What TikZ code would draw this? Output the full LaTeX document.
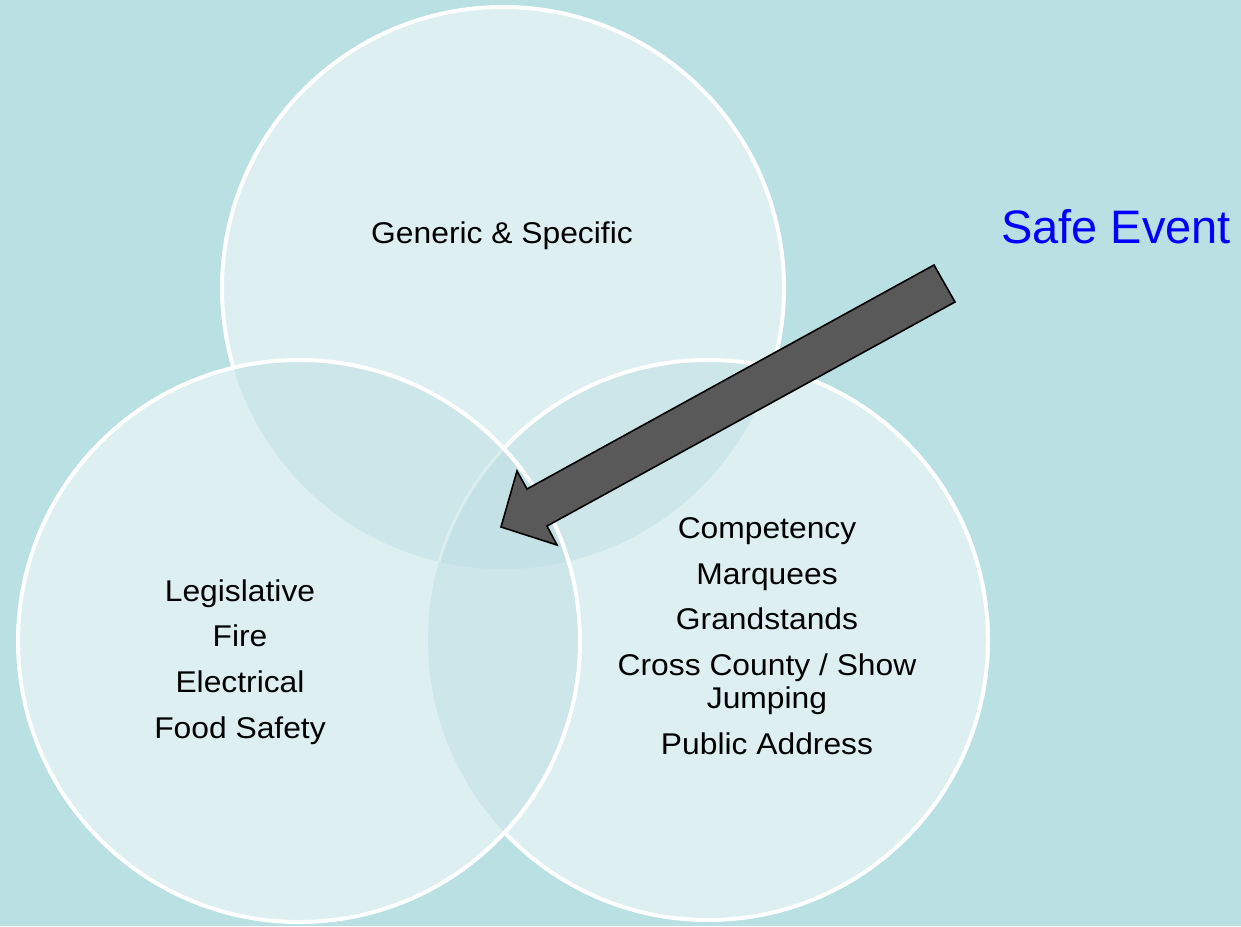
\documentclass[tikz,border=0pt]{standalone}
\usepackage{fontspec}
\setmainfont{Liberation Sans}
\newfontfamily\lblfont[FakeStretch=1.06]{Liberation Sans}
\definecolor{bgc}{HTML}{B9E0E3}
\definecolor{oneC}{HTML}{DDEFF1}
\definecolor{twoC}{HTML}{CCE6E9}
\definecolor{threeC}{HTML}{C4E2E5}
\definecolor{arrowc}{HTML}{595959}
\definecolor{safeblue}{HTML}{0000FF}
\tikzset{
  ring/.style={draw=white, line width=2pt},
  lbl/.style={align=center, font=\lblfont\fontsize{15}{16.5}\selectfont, text=black, inner sep=0pt},
  blockarrow/.style={fill=arrowc, draw=black, line width=0.8pt, line join=miter},
}
\begin{document}
\begin{tikzpicture}[x=0.5pt, y=-0.5pt]
\useasboundingbox (0,0) rectangle (1241,926);
\fill[bgc] (0,0) rectangle (1241,926);
\def\rT{(503,288) circle[radius=281]}
\def\rL{(299,641) circle[radius=281]}
\def\rR{(708,640) circle[radius=280]}
% top circle
\fill[oneC] \rT;
\draw[ring] \rT;
% right circle
\fill[oneC] \rR;
\begin{scope}
  \clip \rR;
  \fill[twoC] \rT;
\end{scope}
\draw[ring] \rR;
% left circle
\fill[oneC] \rL;
\begin{scope}
  \clip \rL;
  \fill[twoC] \rT;
  \fill[twoC] \rR;
  \begin{scope}
    \clip \rT;
    \fill[threeC] \rR;
    \draw[white, line width=1.5pt, opacity=0.35] \rR;
  \end{scope}
\end{scope}
\draw[ring] \rL;
% labels
\node[lbl] (top) at (502,236) {Generic \& Specific};
\node[lbl] (left) at (240,662) {Legislative\\[6.3pt]Fire\\[6.3pt]Electrical\\[6.3pt]Food Safety};
\node[lbl] (right) at (767,636) {Competency\\[6.3pt]Marquees\\[6.3pt]Grandstands\\[6.3pt]Cross County / Show\\Jumping\\[6.3pt]Public Address};
\node[font=\fontsize{23.5}{26}\selectfont, text=safeblue, inner sep=0pt] (safe) at (1116,227) {Safe Event};
% block arrow
\coordinate (a1) at (934,265);
\coordinate (a2) at (955,302);
\coordinate (a3) at (547,526);
\coordinate (a4) at (557,545);
\coordinate (tip) at (501,527);
\coordinate (a6) at (517,471);
\coordinate (a7) at (527,489);
\draw[blockarrow] (a1) -- (a2) -- (a3) -- (a4) -- (tip) -- (a6) -- (a7) -- cycle;
\end{tikzpicture}
\end{document}
